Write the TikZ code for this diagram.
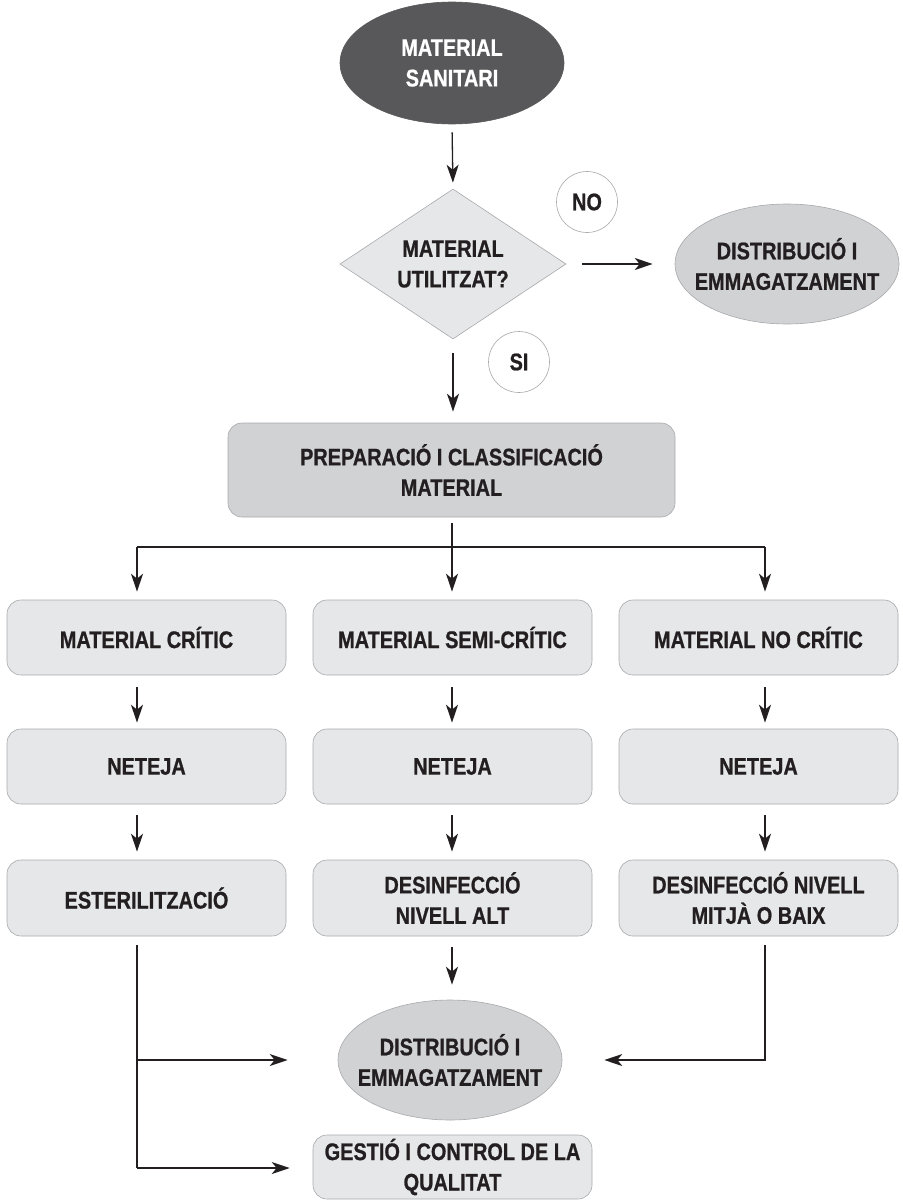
\documentclass[tikz,border=0pt]{standalone}
\usepackage{fontspec}
\setmainfont[FakeStretch=0.83, BoldFeatures={FakeBold=0.8}]{Liberation Sans}
\usetikzlibrary{shapes.geometric,arrows.meta,calc}
\definecolor{dk}{HTML}{58585A}
\definecolor{mid}{HTML}{D1D2D4}
\definecolor{lt}{HTML}{E6E7E8}
\definecolor{bd}{HTML}{A7A9AC}
\definecolor{txt}{HTML}{231F20}
\definecolor{lncol}{HTML}{231F20}
\begin{document}
\begin{tikzpicture}[x=1pt,y=-1pt,
  every node/.style={font=\bfseries\fontsize{24}{30.5}\selectfont, text=txt, align=center},
  box/.style={draw=bd, line width=0.6pt, fill=lt, rounded corners=14pt, minimum width=279pt, minimum height=75pt, inner sep=0pt},
  ell/.style={ellipse, draw=bd, line width=0.6pt, fill=mid, minimum width=224pt, minimum height=120pt, inner sep=0pt},
  dia/.style={diamond, draw=bd, line width=0.6pt, fill=lt, minimum width=226pt, minimum height=150pt, inner sep=0pt},
  lab/.style={circle, draw=bd, line width=0.6pt, fill=white, minimum size=61pt, inner sep=0pt},
  conn/.style={line width=1.3pt, draw=lncol},
  arr/.style={conn, -{Stealth[length=18pt,width=12pt,inset=5pt]}}]
\useasboundingbox (0,0) rectangle (902,1201);

% top
\node[ell, draw=dk, fill=dk, minimum height=122pt] (top) at (452,63) {};
\node[text=white] (topt) at (top) {MATERIAL\\SANITARI};

% decision
\node[dia] (dec) at (453,264) {};
\node (dect) at (dec) {MATERIAL\\UTILITZAT?};
\node[lab] (no) at (587,202) {NO};
\node[lab] (si) at (519,362) {SI};
\node[ell] (dist1) at (787,264) {};
\node (dist1t) at (dist1) {DISTRIBUCIÓ I\\EMMAGATZAMENT};

% preparation
\node[box, fill=mid, minimum width=447pt, minimum height=94pt] (prep) at (451.5,470) {PREPARACIÓ I CLASSIFICACIÓ\\MATERIAL};

% columns
\coordinate (xA) at (137,0);
\coordinate (xB) at (452,0);
\coordinate (xC) at (765,0);

\node[box] (a1) at (146.5,637.5) {MATERIAL CRÍTIC};
\node[box] (b1) at (452.5,637.5) {MATERIAL SEMI-CRÍTIC};
\node[box] (c1) at (758.5,637.5) {MATERIAL NO CRÍTIC};

\node[box] (a2) at (146.5,766.5) {NETEJA};
\node[box] (b2) at (452.5,766.5) {NETEJA};
\node[box] (c2) at (758.5,766.5) {NETEJA};

\node[box, minimum height=76pt] (a3) at (146.5,898) {ESTERILITZACIÓ};
\node[box, minimum height=76pt] (b3) at (452.5,898) {DESINFECCIÓ\\NIVELL ALT};
\node[box, minimum height=76pt] (c3) at (758.5,898) {DESINFECCIÓ NIVELL\\MITJÀ O BAIX};

\node[ell] (dist2) at (450,1060) {};
\node (dist2t) at (dist2) {DISTRIBUCIÓ I\\EMMAGATZAMENT};

\node[box, minimum height=64pt] (gest) at (452.5,1167) {GESTIÓ I CONTROL DE LA\\QUALITAT};

% connectors
\draw[arr, shorten <=8pt, shorten >=6pt] (top.south) -- (dec.north);
\draw[arr, shorten <=16pt, shorten >=22pt] (dec.east) -- (dist1.west);
\draw[arr, shorten <=14pt, shorten >=11pt] (dec.south) -- (dec.south |- prep.north);

\coordinate (hl) at (137,547);
\coordinate (hr) at (765,547);
\draw[conn] (hl) -- (hr);
\draw[arr, shorten <=6pt, shorten >=8pt] (prep.south -| xB) -- (b1.north -| xB);
\draw[arr, shorten >=8pt] (hl) -- (a1.north -| xA);
\draw[arr, shorten >=8pt] (hr) -- (c1.north -| xC);

\draw[arr, shorten <=12pt, shorten >=6pt] (a1.south -| xA) -- (a2.north -| xA);
\draw[arr, shorten <=12pt, shorten >=6pt] (b1.south -| xB) -- (b2.north -| xB);
\draw[arr, shorten <=12pt, shorten >=6pt] (c1.south -| xC) -- (c2.north -| xC);

\draw[arr, shorten <=11pt, shorten >=8pt] (a2.south -| xA) -- (a3.north -| xA);
\draw[arr, shorten <=11pt, shorten >=8pt] (b2.south -| xB) -- (b3.north -| xB);
\draw[arr, shorten <=11pt, shorten >=8pt] (c2.south -| xC) -- (c3.north -| xC);

\draw[arr, shorten <=11pt, shorten >=15pt] (b3.south -| xB) -- (dist2.north -| xB);

\coordinate (lb) at (137,1060);
\coordinate (lc) at (137,1168);
\draw[conn, shorten <=9pt] (a3.south -| xA) -- (lc);
\draw[arr, shorten >=50pt] (lb) -- (dist2.west);
\draw[arr, shorten >=23pt] (lc) -- (lc -| gest.west);
\draw[arr, shorten <=9pt, shorten >=42pt] (c3.south -| xC) |- (dist2.east);
\end{tikzpicture}
\end{document}
